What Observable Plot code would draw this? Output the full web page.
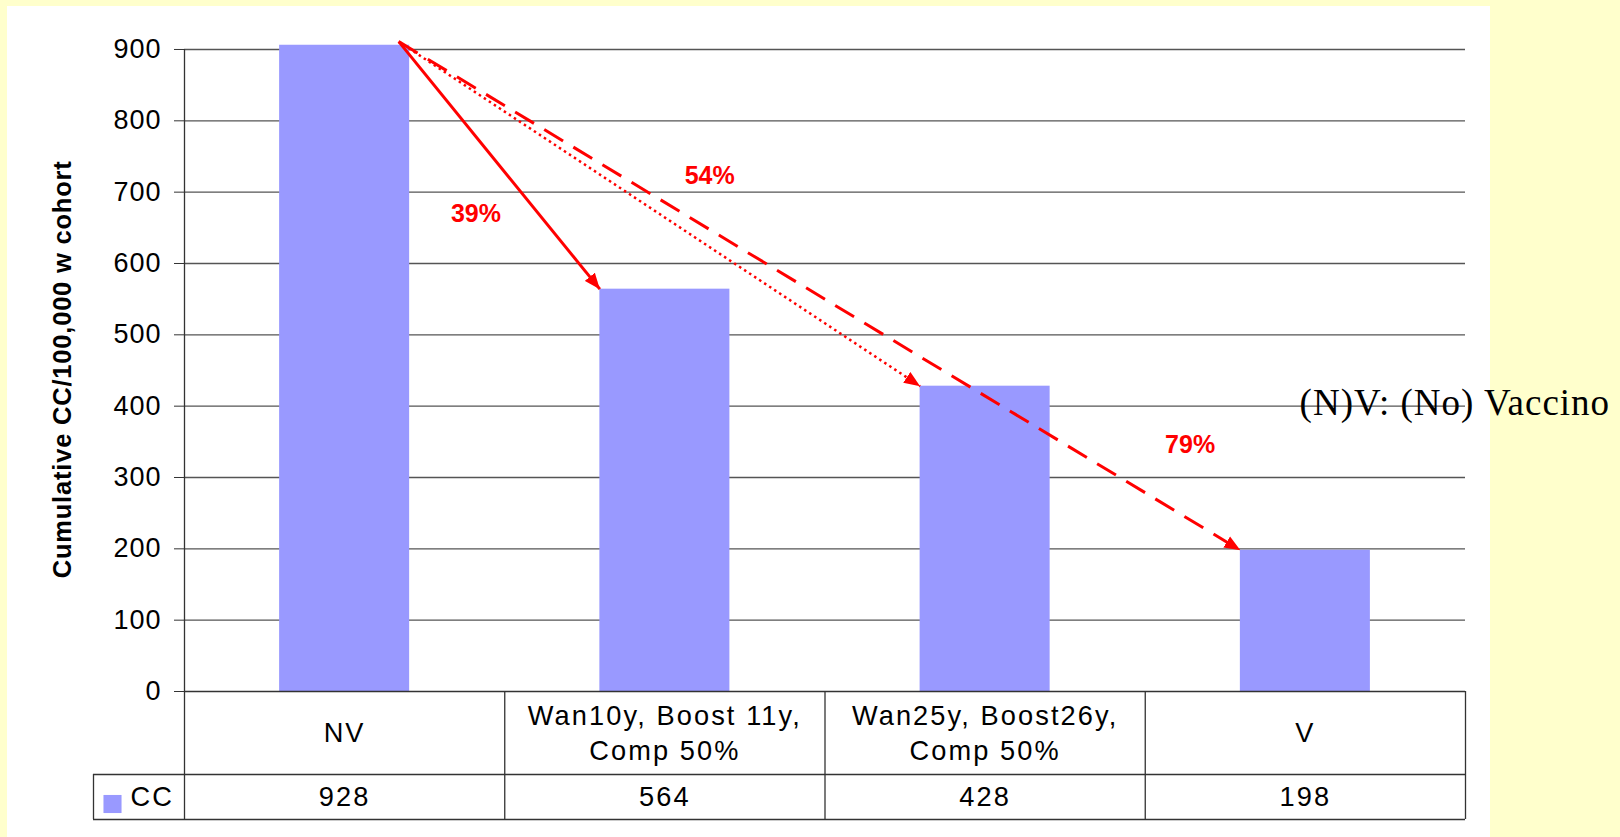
<!DOCTYPE html>
<html><head><meta charset="utf-8">
<script src="https://cdn.jsdelivr.net/npm/d3@7"></script>
<script src="https://cdn.jsdelivr.net/npm/@observablehq/plot@0.6"></script>
<style>
html,body{margin:0;padding:0;background:#FFFFCC;width:1620px;height:837px;overflow:hidden}
#panel{position:absolute;left:7px;top:6px;width:1483px;height:831px;background:#fff}
#chart{position:absolute;left:0;top:0}
#chart g[font-size="27.2"] text{letter-spacing:2.1px}
#chart g[font-size="27"] text{letter-spacing:1px}
#chart g[font-size="25.5"] text{letter-spacing:0.8px}
#chart g[font-size="37"] text{letter-spacing:1px}
</style></head><body>
<div id="panel"></div><div id="chart"></div>
<script>
// ---- data ----
const categories = ["NV", "Wan10y, Boost 11y,\nComp 50%", "Wan25y, Boost26y,\nComp 50%", "V"];
const values = [928, 564, 428, 198];
const seriesName = "CC";
const yTicks = [0, 100, 200, 300, 400, 500, 600, 700, 800, 900];
const arrowTargets = [1, 2, 3];          // arrows from NV to these categories
const arrowTopValue = 911;               // arrows start at top of NV bar
const pctLabels = ["39%", "54%", "79%"];
const pctLabelX = [0.41, 1.14, 2.64];
const pctLabelY = [669, 722, 345];
const noteText = "(N)V: (No) Vaccino";
const noteX = [2.982];
const noteY = [400];
const yTitle = "Cumulative CC/100,000 w cohort";

// ---- styles ----
const BAR_HALF = 0.203;
const ARROW_START_OFFSET = 0.169;
const arrowDash = [null, "2.5,3.5", "22,12"];
const arrowWidth = [3, 2.5, 3];
const RED = "#FF0000";
const LINE = "#333";
const MT = 44.7, MB = 146, ML = 184, MR = 155;
const FRAME_H = 837 - MT - MB;
const ROW1 = 83, ROW2 = 128, LEG = 91;

const bars = categories.map((c, i) => ({i, label: c, value: values[i]}));
const arrows = arrowTargets.map(k => ({x1: ARROW_START_OFFSET, y1: arrowTopValue, x2: k - BAR_HALF, y2: values[k]}));
const pcts = pctLabels.map((t, j) => ({t, x: pctLabelX[j], y: pctLabelY[j]}));

function arrowHead(color) {
  const ns = "http://www.w3.org/2000/svg";
  const m = document.createElementNS(ns, "marker");
  m.setAttribute("viewBox", "-16 -7 16 14");
  m.setAttribute("markerWidth", 16);
  m.setAttribute("markerHeight", 14);
  m.setAttribute("markerUnits", "userSpaceOnUse");
  m.setAttribute("orient", "auto");
  m.setAttribute("refX", 0);
  m.setAttribute("refY", 0);
  const p = document.createElementNS(ns, "path");
  p.setAttribute("d", "M0,0L-16,-6.5L-16,6.5Z");
  p.setAttribute("fill", color);
  p.setAttribute("stroke", "none");
  p.setAttribute("stroke-dasharray", "none");
  m.appendChild(p);
  return m;
}

const plot = Plot.plot({
  width: 1620, height: 837,
  marginTop: MT, marginBottom: MB, marginLeft: ML, marginRight: MR,
  style: {background: "transparent", fontFamily: "'Liberation Sans', Arial, sans-serif", color: "#000", overflow: "visible"},
  x: {type: "linear", domain: [-0.5, 3.5], axis: null},
  y: {domain: [0, 906], axis: null},
  marks: [
    Plot.ruleY(yTicks.filter(d => d > 0), {stroke: "#555", strokeWidth: 1.3}),
    Plot.rectY(bars, {x1: d => d.i - BAR_HALF, x2: d => d.i + BAR_HALF, y: "value", fill: "#9999FF", clip: true}),
    Plot.axisY({ticks: yTicks, tickSize: 10, tickPadding: 13, fontSize: 27, stroke: LINE, tickFormat: d => d, label: null}),
    Plot.ruleX([-0.5], {y1: 0, y2: 900, stroke: LINE, strokeWidth: 1.3}),
    Plot.ruleY([0], {stroke: LINE, strokeWidth: 1.5}),
    Plot.ruleY([0], {dy: ROW1, insetLeft: -LEG, stroke: LINE, strokeWidth: 1.3}),
    Plot.ruleY([0], {dy: ROW2, insetLeft: -LEG, stroke: LINE, strokeWidth: 1.3}),
    Plot.ruleX([-0.5, 0.5, 1.5, 2.5, 3.5], {insetTop: FRAME_H, insetBottom: -ROW2, stroke: LINE, strokeWidth: 1.3}),
    Plot.ruleX([-0.5], {dx: -LEG, insetTop: FRAME_H + ROW1, insetBottom: -ROW2, stroke: LINE, strokeWidth: 1.3}),
    Plot.text(bars, {x: "i", text: "label", frameAnchor: "bottom", dy: ROW1 / 2 - 2, lineAnchor: "middle", lineHeight: 1.3, fontSize: 27.2}),
    Plot.text(bars, {x: "i", text: d => String(d.value), frameAnchor: "bottom", dy: (ROW1 + ROW2) / 2, lineAnchor: "middle", fontSize: 27.2}),
    Plot.dot([seriesName], {frameAnchor: "bottom-left", dx: -72, dy: 112.5, symbol: "square", r: 10.2, fill: "#9999FF", stroke: "none"}),
    Plot.text([seriesName], {frameAnchor: "bottom-left", dx: -54, dy: (ROW1 + ROW2) / 2, textAnchor: "start", lineAnchor: "middle", fontSize: 27.2}),
    ...arrows.map((a, j) => Plot.link([a], {x1: "x1", y1: "y1", x2: "x2", y2: "y2", stroke: RED, strokeWidth: arrowWidth[j], strokeDasharray: arrowDash[j], markerEnd: arrowHead})),
    Plot.text(pcts, {x: "x", y: "y", text: "t", fill: RED, fontWeight: "bold", fontSize: 25, lineAnchor: "middle"}),
    Plot.text([yTitle], {frameAnchor: "left", dx: -122, dy: 1, rotate: -90, fontWeight: "bold", fontSize: 25.5, textAnchor: "middle", lineAnchor: "middle"}),
    Plot.text([noteText], {x: noteX, y: noteY, textAnchor: "start", lineAnchor: "middle", dy: -3, fontSize: 37, fontFamily: "'Liberation Serif', 'Times New Roman', serif", fill: "#000"})
  ]
});
document.getElementById("chart").appendChild(plot);
</script>
</body></html>
